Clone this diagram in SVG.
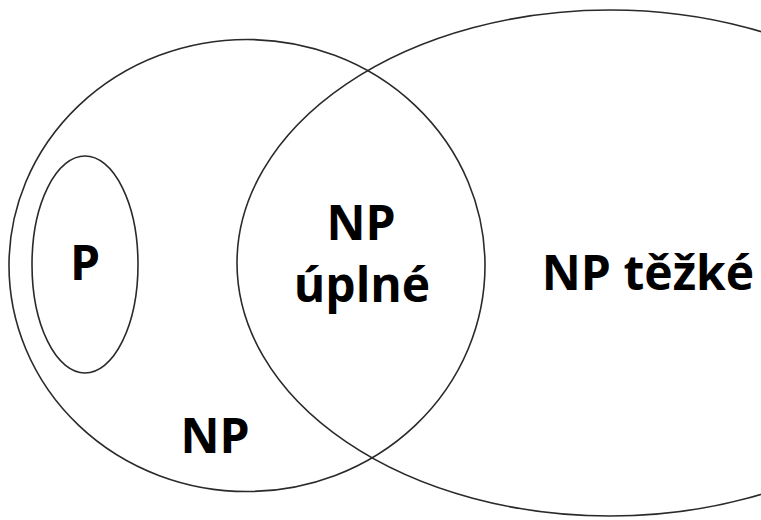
<svg xmlns="http://www.w3.org/2000/svg" width="761" height="520" viewBox="0 0 761 520">
<style>
.set{fill:none;stroke:#2a2a2a;stroke-width:1.6}
.lbl{font-family:"Open Sans","Noto Sans","Liberation Sans",sans-serif;font-weight:bold;font-size:48px;fill:#000;text-anchor:middle}
</style>
<rect width="761" height="520" fill="#fff"/>
<g id="np-hard">
<ellipse class="set" cx="610" cy="263" rx="373" ry="253"/>
<text class="lbl" x="648" y="290">NP těžké</text>
</g>
<g id="np">
<ellipse class="set" cx="247" cy="265.5" rx="238" ry="226"/>
<text class="lbl" x="215" y="453">NP</text>
</g>
<g id="p">
<ellipse class="set" cx="85" cy="264.5" rx="53" ry="108.5"/>
<text class="lbl" x="85" y="280">P</text>
</g>
<g id="np-complete">
<text class="lbl" x="361" y="240">NP</text>
<text class="lbl" x="362" y="302" font-size="46">úplné</text>
</g>
<g id="connectors"/>
</svg>
